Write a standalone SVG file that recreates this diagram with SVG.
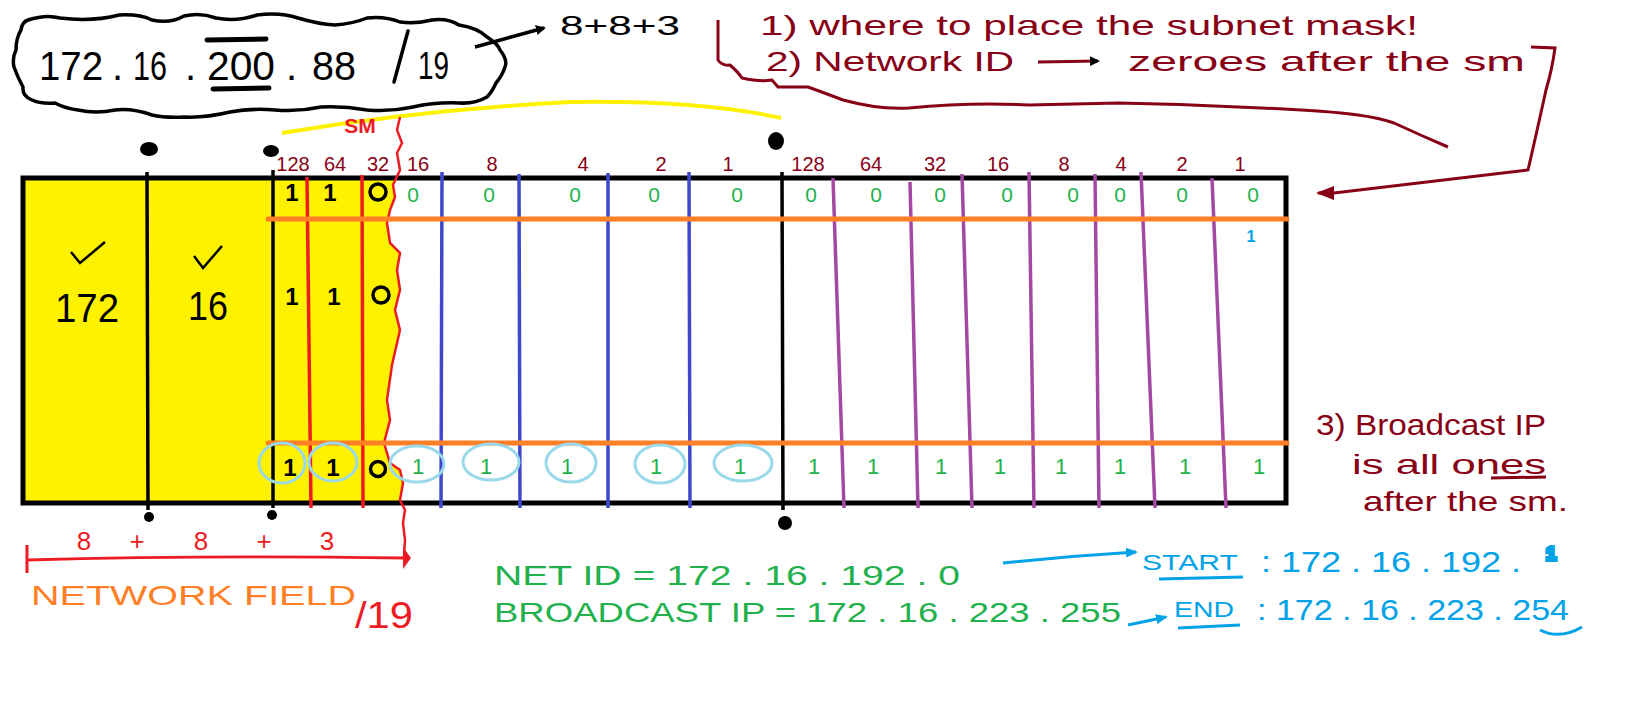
<svg xmlns="http://www.w3.org/2000/svg" width="1638" height="714" viewBox="0 0 1638 714">
<style>
text{font-family:"Liberation Sans",Arial,sans-serif}
.mr{fill:#880015}
.gr{fill:#22B14C}
.bl{fill:#00A2E8}
.rd{fill:#ED1C24}
.bk{fill:#000}
.hdr{font-size:20px;text-anchor:middle;fill:#880015}
.z{font-size:21px;text-anchor:middle;fill:#22B14C}
.o1{font-size:22px;text-anchor:middle;fill:#22B14C}
.b1{font-size:24px;text-anchor:middle;font-weight:bold;fill:#000}
.vb{stroke:#3F48CC;stroke-width:3.5;fill:none}
.vp{stroke:#A349A4;stroke-width:3.5;fill:none}
.vr{stroke:#ED1C24;stroke-width:3.5;fill:none}
.vk{stroke:#000;stroke-width:3.5;fill:none}
.lb{stroke:#99D9EA;stroke-width:3;fill:none}
</style>
<defs>
<marker id="ahK" markerWidth="10" markerHeight="10" refX="8" refY="5" orient="auto" markerUnits="userSpaceOnUse"><path d="M0,0 L10,5 L0,10 Z" fill="#000"/></marker>
<marker id="ahB" markerWidth="12" markerHeight="10" refX="10" refY="5" orient="auto" markerUnits="userSpaceOnUse"><path d="M0,0 L12,5 L0,10 Z" fill="#00A2E8"/></marker>
<marker id="ahM" markerWidth="18" markerHeight="14" refX="16" refY="7" orient="auto" markerUnits="userSpaceOnUse"><path d="M0,0 L18,7 L0,14 Z" fill="#880015"/></marker>
</defs>
<rect width="1638" height="714" fill="#fff"/>

<g id="ip-cloud">
<path d="M28,20 Q46,14 60,18 Q92,22 119,15 Q140,14 152,20 Q170,24 184,16 Q200,12 216,18 Q236,22 257,15 Q280,12 298,18 Q318,24 335,25 Q352,24 367,18 Q385,16 400,22 Q416,24 432,20 Q448,18 459,25 Q478,28 487,37 Q498,44 500,50 Q508,60 505,67 Q502,76 496,83 Q492,92 487,97 Q475,104 459,103 Q436,102 413,107 Q390,112 367,110 Q344,106 321,107 Q298,112 275,110 Q252,108 230,112 Q205,118 184,117 Q165,118 152,115 Q132,108 115,110 Q96,114 78,110 Q64,108 55,103 Q40,104 32,100 Q22,96 23,87 Q18,78 14,67 Q12,58 16,50 Q16,38 21,30 Q22,22 28,20 Z" fill="none" stroke="#000" stroke-width="3.5"/>
<text font-size="40" class="bk"><tspan x="39" y="80" textLength="64" lengthAdjust="spacingAndGlyphs">172</tspan><tspan x="112" y="80">.</tspan><tspan x="133" y="80" textLength="34" lengthAdjust="spacingAndGlyphs">16</tspan><tspan x="185" y="80">.</tspan><tspan x="207" y="80" textLength="68" lengthAdjust="spacingAndGlyphs">200</tspan><tspan x="286" y="80">.</tspan><tspan x="312" y="80" textLength="44" lengthAdjust="spacingAndGlyphs">88</tspan></text>
<path d="M207,40 L266,39 M213,89 L269,88" stroke="#000" stroke-width="5" fill="none" stroke-linecap="round"/>
<path d="M408,31 L394,82" stroke="#000" stroke-width="3.5" fill="none" stroke-linecap="round"/>
<text x="418" y="79" font-size="38" class="bk" textLength="31" lengthAdjust="spacingAndGlyphs">19</text>
</g>

<g id="sum-label">
<text x="560" y="35" font-size="27" class="bk" textLength="120" lengthAdjust="spacingAndGlyphs">8+8+3</text>
</g>

<g id="notes-top">
<text x="760" y="35" font-size="28" class="mr" textLength="658" lengthAdjust="spacingAndGlyphs">1) where to place the subnet mask!</text>
<text x="766" y="71" font-size="28" class="mr" textLength="248" lengthAdjust="spacingAndGlyphs">2) Network ID</text>
<text x="1128" y="71" font-size="28" class="mr" textLength="397" lengthAdjust="spacingAndGlyphs">zeroes after the sm</text>
</g>

<g id="connectors">
<path d="M475,47 L544,28" stroke="#000" stroke-width="3.5" fill="none" marker-end="url(#ahK)"/>
<path d="M1038,62 L1098,61" stroke="#880015" stroke-width="3" fill="none" marker-end="url(#ahK)"/>
<path d="M718,20 L718,60 Q722,66 730,65 Q738,72 742,78 Q760,82 772,80 L778,87 L808,87 Q830,95 843,100 Q880,110 909,108 Q970,102 1029,105 Q1080,104 1119,103 Q1180,104 1238,107 Q1320,110 1358,115 Q1380,118 1394,123 Q1420,135 1448,147" stroke="#880015" stroke-width="3" fill="none"/>
<path d="M1531,47 L1555,48 Q1552,70 1546,90 Q1535,140 1528,170 Q1440,180 1334,193 L1318,193" stroke="#880015" stroke-width="3" fill="none" marker-end="url(#ahM)"/>
<path d="M1003,563 Q1070,556 1136,552" stroke="#00A2E8" stroke-width="3" fill="none" marker-end="url(#ahB)"/>
<path d="M1128,625 L1166,617" stroke="#00A2E8" stroke-width="3" fill="none" marker-end="url(#ahB)"/>
<path d="M27,545 L27,573 M27,560 Q200,555 405,558" stroke="#ED1C24" stroke-width="3" fill="none"/>
<path d="M403,547 L411,558 L403,569 Z" fill="#ED1C24"/>
</g>

<g id="table">
<path d="M23,178 L398,178 L393,185 L395,197 L390,210 L387,223 L390,243 L400,253 L397,270 L400,290 L395,310 L400,330 L392,365 L387,400 L390,420 L384,443 L390,463 L400,470 L403,483 L400,503 L23,503 Z" fill="#FFF200"/>
<path d="M282,133 Q420,110 570,102 Q700,100 781,118" stroke="#FFF200" stroke-width="4" fill="none"/>
<rect x="23" y="178" width="1263" height="325" fill="none" stroke="#000" stroke-width="5"/>
<path class="vk" d="M147,172 L148,510 M273,170 L273,508 M782,172 L783,510"/>
<ellipse cx="149" cy="149" rx="9" ry="7" fill="#000"/>
<ellipse cx="271" cy="151" rx="8" ry="6" fill="#000"/>
<ellipse cx="776" cy="141" rx="8" ry="9" fill="#000"/>
<circle cx="149" cy="517" r="5" fill="#000"/>
<circle cx="272" cy="515" r="5" fill="#000"/>
<circle cx="785" cy="523" r="7" fill="#000"/>
<path class="vr" d="M307,177 L311,508 M362,175 L363,508"/>
<path d="M400,117 L397,130 L402,143 L397,153 L400,170 L393,185 L395,197 L390,210 L387,223 L390,243 L400,253 L397,270 L400,290 L395,310 L400,330 L392,365 L387,400 L390,420 L384,443 L390,463 L400,470 L403,483 L400,500 L405,510 L403,523 L405,540 L404,557" stroke="#ED1C24" stroke-width="2.5" fill="none"/>
<path class="vb" d="M442,172 L441,508 M519,174 L520,508 M608,173 L608,508 M689,172 L690,508"/>
<path class="vp" d="M833,178 L844,508 M910,182 L918,508 M962,174 L972,508 M1029,172 L1034,508 M1095,174 L1099,508 M1141,172 L1155,508 M1212,178 L1226,508"/>
<path d="M268,219 L1287,219 M268,443 L1287,443" stroke="#FF7F27" stroke-width="5" fill="none" stroke-linecap="round"/>
<text x="360" y="133" font-size="21" class="rd" font-weight="bold" text-anchor="middle">SM</text>
<text class="hdr" y="171"><tspan x="293">128</tspan><tspan x="335">64</tspan><tspan x="378">32</tspan><tspan x="418">16</tspan><tspan x="492">8</tspan><tspan x="583">4</tspan><tspan x="661">2</tspan><tspan x="728">1</tspan><tspan x="808">128</tspan><tspan x="871">64</tspan><tspan x="935">32</tspan><tspan x="998">16</tspan><tspan x="1064">8</tspan><tspan x="1121">4</tspan><tspan x="1182">2</tspan><tspan x="1240">1</tspan></text>
<path d="M71,252 L80,263 L105,242 M194,256 L203,268 L222,246" stroke="#000" stroke-width="2.5" fill="none"/>
<text x="87" y="322" font-size="40" class="bk" text-anchor="middle" textLength="64" lengthAdjust="spacingAndGlyphs">172</text>
<text x="208" y="320" font-size="40" class="bk" text-anchor="middle" textLength="40" lengthAdjust="spacingAndGlyphs">16</text>
<text class="b1" y="201"><tspan x="292">1</tspan><tspan x="330">1</tspan></text>
<circle cx="378" cy="192" r="8" fill="none" stroke="#000" stroke-width="3.5"/>
<text class="z" y="202"><tspan x="413">0</tspan><tspan x="489">0</tspan><tspan x="575">0</tspan><tspan x="654">0</tspan><tspan x="737">0</tspan><tspan x="811">0</tspan><tspan x="876">0</tspan><tspan x="940">0</tspan><tspan x="1007">0</tspan><tspan x="1073">0</tspan><tspan x="1120">0</tspan><tspan x="1182">0</tspan><tspan x="1253">0</tspan></text>
<text x="1251" y="242" font-size="16" class="bl" font-weight="bold" text-anchor="middle">1</text>
<text class="b1" y="305"><tspan x="292">1</tspan><tspan x="334">1</tspan></text>
<circle cx="381" cy="295" r="8" fill="none" stroke="#000" stroke-width="3.5"/>
<text class="b1" y="476"><tspan x="290">1</tspan><tspan x="333">1</tspan></text>
<circle cx="378" cy="469" r="7.5" fill="none" stroke="#000" stroke-width="3.5"/>
<text class="o1" y="474"><tspan x="418">1</tspan><tspan x="486">1</tspan><tspan x="567">1</tspan><tspan x="656">1</tspan><tspan x="740">1</tspan><tspan x="814">1</tspan><tspan x="873">1</tspan><tspan x="941">1</tspan><tspan x="1000">1</tspan><tspan x="1061">1</tspan><tspan x="1120">1</tspan><tspan x="1185">1</tspan><tspan x="1259">1</tspan></text>
<ellipse class="lb" cx="282" cy="463" rx="23" ry="20"/>
<ellipse class="lb" cx="333" cy="462" rx="24" ry="19"/>
<ellipse class="lb" cx="417" cy="464" rx="27" ry="18"/>
<ellipse class="lb" cx="491" cy="462" rx="28" ry="18"/>
<ellipse class="lb" cx="571" cy="463" rx="25" ry="19"/>
<ellipse class="lb" cx="660" cy="464" rx="25" ry="19"/>
<ellipse class="lb" cx="743" cy="463" rx="29" ry="18"/>
</g>

<g id="network-field">
<text class="rd" font-size="26" y="550" text-anchor="middle"><tspan x="84">8</tspan><tspan x="137">+</tspan><tspan x="201">8</tspan><tspan x="264">+</tspan><tspan x="327">3</tspan></text>
<text x="31" y="605" font-size="28" fill="#FF7F27" textLength="325" lengthAdjust="spacingAndGlyphs">NETWORK FIELD</text>
<text x="355" y="628" font-size="36" class="rd" textLength="58" lengthAdjust="spacingAndGlyphs">/19</text>
</g>

<g id="ids">
<text x="494" y="585" font-size="28" class="gr" textLength="466" lengthAdjust="spacingAndGlyphs">NET ID = 172 . 16 . 192 . 0</text>
<text x="494" y="622" font-size="28" class="gr" textLength="627" lengthAdjust="spacingAndGlyphs">BROADCAST IP = 172 . 16 . 223 . 255</text>
</g>

<g id="range">
<text x="1142" y="570" font-size="22" class="bl" textLength="96" lengthAdjust="spacingAndGlyphs">START</text>
<path d="M1159,579 L1243,577 M1178,628 L1240,625" stroke="#00A2E8" stroke-width="3" fill="none"/>
<text x="1261" y="572" font-size="30" class="bl" textLength="260" lengthAdjust="spacingAndGlyphs">: 172 . 16 . 192 .</text>
<text x="1551" y="560" font-size="18" class="bl" font-weight="bold" stroke="#00A2E8" stroke-width="4" text-anchor="middle">1</text>
<text x="1174" y="617" font-size="22" class="bl" textLength="60" lengthAdjust="spacingAndGlyphs">END</text>
<text x="1257" y="620" font-size="30" class="bl" textLength="312" lengthAdjust="spacingAndGlyphs">: 172 . 16 . 223 . 254</text>
<path d="M1540,630 Q1560,640 1582,627" stroke="#00A2E8" stroke-width="3" fill="none"/>
</g>

<g id="note-broadcast">
<text x="1316" y="435" font-size="30" class="mr" textLength="230" lengthAdjust="spacingAndGlyphs">3) Broadcast IP</text>
<text x="1352" y="474" font-size="28" class="mr" textLength="194" lengthAdjust="spacingAndGlyphs">is all ones</text>
<path d="M1491,478 L1546,477" stroke="#880015" stroke-width="3" fill="none"/>
<text x="1363" y="511" font-size="28" class="mr" textLength="205" lengthAdjust="spacingAndGlyphs">after the sm.</text>
</g>
</svg>
